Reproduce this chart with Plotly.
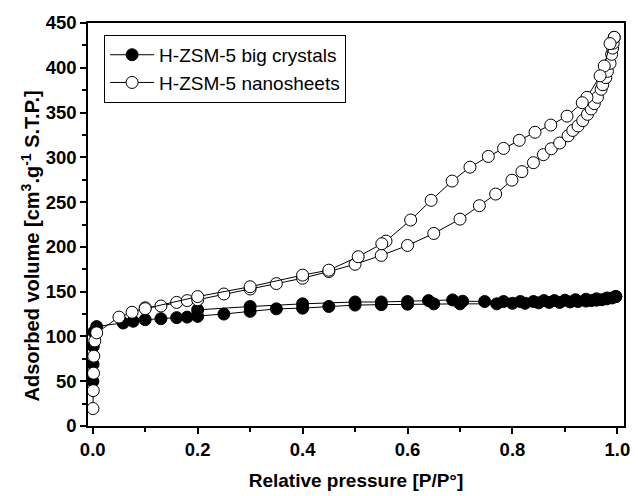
import plotly.graph_objects as go

# H-ZSM-5 big crystals
big_ads_p = [0.0003, 0.0006, 0.001, 0.002, 0.0075, 0.058, 0.077, 0.10, 0.13, 0.16, 0.18, 0.20, 0.25, 0.30,
             0.35, 0.40, 0.45, 0.50, 0.55, 0.60, 0.65, 0.70, 0.77, 0.80, 0.824, 0.85, 0.87, 0.89, 0.91, 0.925,
             0.94, 0.95, 0.96, 0.97, 0.98, 0.99, 0.997]
big_ads_v = [50, 69, 89, 105, 111, 115, 117, 118.7, 119.8, 121, 121.6, 122.4, 125, 128,
             130.8, 131.6, 133.5, 135, 135.5, 136, 136.4, 136.4, 136.4, 137, 137, 137.5, 138, 138, 138.5, 139,
             139.5, 140, 140.5, 141, 142, 143, 144.5]
big_des_p = [0.997, 0.98, 0.96, 0.94, 0.92, 0.90, 0.88, 0.86, 0.84, 0.815, 0.783, 0.747, 0.705, 0.686,
             0.64, 0.60, 0.55, 0.50, 0.40, 0.30, 0.20]
big_des_v = [144.5, 143, 142, 141.5, 141, 140.5, 140, 140, 139, 139, 139, 139, 139.3, 140.8,
             140, 139, 138.5, 138.5, 136.4, 133.4, 129.7]

# H-ZSM-5 nanosheets
ns_ads_p = [0.0005, 0.001, 0.0015, 0.002, 0.004, 0.0075, 0.050, 0.075, 0.10, 0.13, 0.16, 0.18, 0.20, 0.25,
            0.30, 0.35, 0.40, 0.45, 0.50, 0.55, 0.60, 0.65, 0.70, 0.737, 0.768, 0.799, 0.818, 0.840, 0.859,
            0.874, 0.890, 0.906, 0.915, 0.925, 0.934, 0.943, 0.950, 0.956, 0.962, 0.969, 0.972, 0.978, 0.981,
            0.986, 0.989, 0.991, 0.992, 0.994]
ns_ads_v = [19.5, 39.5, 59, 78, 95, 104, 121.6, 127, 132, 134, 138, 140, 141, 147.4,
            153, 159, 165, 172.5, 180.6, 190.5, 201.6, 215, 231, 246, 259, 274.5, 284, 294, 303,
            309.6, 316, 324, 330, 335, 341, 348, 354, 360, 367, 376, 381, 389, 396,
            405, 415, 422, 427.5, 434]
ns_des_p = [0.994, 0.986, 0.975, 0.967, 0.942, 0.933, 0.904, 0.873, 0.843, 0.813, 0.783, 0.754, 0.719,
            0.685, 0.645, 0.606, 0.559, 0.551, 0.506, 0.45, 0.40, 0.30, 0.20, 0.10]
ns_des_v = [434, 427, 402, 391, 367, 361, 346, 336, 328, 319, 310, 301, 289,
            273.5, 252, 230, 206.5, 203.5, 189, 174, 168.5, 155.5, 144.5, 131]

x_ticks = [0.0, 0.2, 0.4, 0.6, 0.8, 1.0]
x_tick_labels = ["0.0", "0.2", "0.4", "0.6", "0.8", "1.0"]
y_ticks = [0, 50, 100, 150, 200, 250, 300, 350, 400, 450]

FONT = "Liberation Sans, Arial, sans-serif"

fig = go.Figure()

def add(p, v, name, filled, show):
    fig.add_trace(go.Scatter(
        x=p, y=v, mode="lines+markers", name=name, legendgroup=name, showlegend=show,
        line=dict(color="black", width=1),
        marker=dict(symbol="circle", size=12,
                    color="black" if filled else "white",
                    line=dict(color="black", width=1)),
    ))

add(big_ads_p, big_ads_v, "H-ZSM-5 big crystals", True, True)
add(big_des_p, big_des_v, "H-ZSM-5 big crystals", True, False)
add(ns_ads_p, ns_ads_v, "H-ZSM-5 nanosheets", False, True)
add(ns_des_p, ns_des_v, "H-ZSM-5 nanosheets", False, False)

fig.update_layout(
    width=638, height=496,
    margin=dict(l=88, r=8, t=23, b=66),
    paper_bgcolor="white", plot_bgcolor="white",
    font=dict(family=FONT, size=18, color="black"),
    showlegend=True,
    legend=dict(x=0.03, y=0.9705, xanchor="left", yanchor="top",
                bordercolor="black", borderwidth=1, bgcolor="white",
                font=dict(family=FONT, size=19, color="black"),
                tracegroupgap=0, itemwidth=44),
    xaxis=dict(
        range=[-0.009, 1.0126],
        tickvals=x_ticks, ticktext=x_tick_labels,
        ticks="outside", ticklen=6, tickwidth=1.5, tickcolor="black",
        minor=dict(dtick=0.1, tick0=0, ticks="outside", ticklen=4, tickwidth=1.5, tickcolor="black"),
        showline=True, linecolor="black", linewidth=1.5, mirror=True,
        showgrid=False, zeroline=False,
        tickfont=dict(family=FONT, size=18.5, color="black", weight="bold"),
        title=dict(text="<b>Relative pressure [P/P°]</b>", standoff=15,
                   font=dict(family=FONT, size=19, color="black")),
    ),
    yaxis=dict(
        range=[0, 450],
        tickvals=y_ticks,
        ticks="outside", ticklen=6, tickwidth=1.5, tickcolor="black",
        minor=dict(dtick=25, tick0=0, ticks="outside", ticklen=4, tickwidth=1.5, tickcolor="black"),
        showline=True, linecolor="black", linewidth=1.5, mirror=True,
        showgrid=False, zeroline=False,
        tickfont=dict(family=FONT, size=18.5, color="black", weight="bold"),
    ),
    annotations=[dict(
        text="<b>Adsorbed volume [cm<sup>3</sup>.g<sup>-1</sup> S.T.P.]</b>",
        textangle=-90, xref="paper", yref="paper",
        x=(30 - 88) / 542, y=(430 - 248) / 407, xanchor="center", yanchor="middle",
        showarrow=False, font=dict(family=FONT, size=20, color="black"),
    )],
)

fig.write_html("out.html", config={"displayModeBar": False},
               post_script="document.body.style.margin='0';document.body.style.padding='0';")
